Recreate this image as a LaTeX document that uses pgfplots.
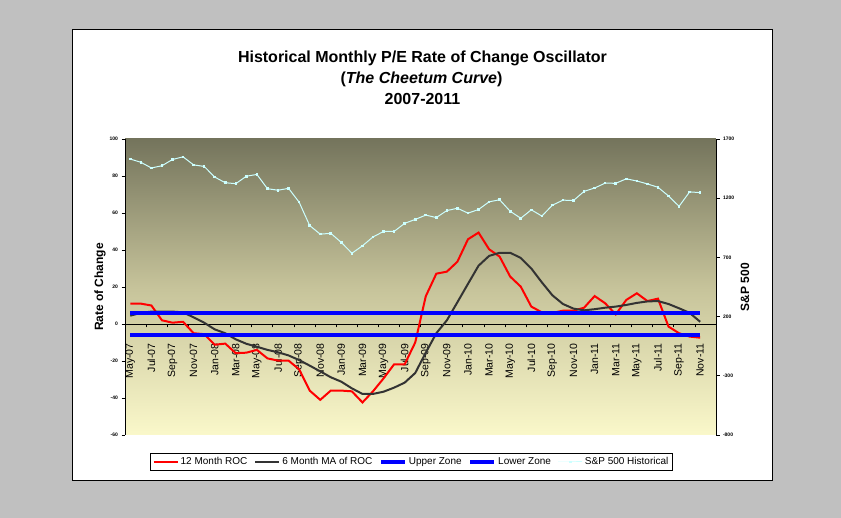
\documentclass[border=0pt]{standalone}
\usepackage{fontspec}
\setmainfont{Liberation Sans}
\usepackage{pgfplots}
\pgfplotsset{compat=1.18}
\definecolor{bggray}{HTML}{C0C0C0}
\definecolor{topc}{HTML}{74745C}
\definecolor{midc}{HTML}{C6C39A}
\definecolor{botc}{HTML}{FAF8CA}
\definecolor{maline}{HTML}{333333}
\definecolor{spc}{HTML}{CCFFFF}
\pgfplotsset{
  base/.style={at={(125pt,83pt)}, anchor=south west, scale only axis,
    width=591pt, height=296pt, xmin=-0.5, xmax=55.5},
}
\begin{document}
\begin{tikzpicture}[x=1pt,y=1pt]
\fill[bggray] (0,0) rectangle (841,518);
\draw[black, line width=1pt, fill=white] (72.5,37.5) rectangle (772.5,488.5);
\node[font=\fontsize{16}{19}\selectfont\bfseries, anchor=base] at (422.5,455.3) {Historical Monthly P/E Rate of Change Oscillator};
\node[font=\fontsize{16}{19}\selectfont\bfseries, anchor=base] at (421.5,434.7) {(\textit{The Cheetum Curve})};
\node[font=\fontsize{16}{19}\selectfont\bfseries, anchor=base] at (422.5,413) {2007-2011};
% frame axis: background, axes, ticks, labels, legend
\begin{axis}[
  base, ymin=-60, ymax=100,
  axis x line=middle, axis y line=left, axis line style={-, black, line width=0.8pt},
  axis background/.style={shade, top color=topc, bottom color=botc, middle color=midc},
  tick align=outside, major tick length=3.5pt,
  tick style={black, line width=0.6pt},
  ytick={-60,-40,...,100},
  yticklabel style={font=\fontsize{5}{6}\selectfont\bfseries, /pgf/number format/assume math mode=true},
  xtick={-0.5,1.5,...,55.5}, xticklabels={},
  extra x ticks={0,2,...,54},
  extra x tick labels={May-07,Jul-07,Sep-07,Nov-07,Jan-08,Mar-08,May-08,Jul-08,Sep-08,Nov-08,Jan-09,Mar-09,May-09,Jul-09,Sep-09,Nov-09,Jan-10,Mar-10,May-10,Jul-10,Sep-10,Nov-10,Jan-11,Mar-11,May-11,Jul-11,Sep-11,Nov-11},
  extra x tick style={major tick length=0pt, tick label style={yshift=-16pt, rotate=90, anchor=east, font=\fontsize{10.5}{12}\selectfont}},
  ylabel={Rate of Change},
  ylabel style={at={(axis description cs:-0.0423,0.5)}, anchor=center, rotate=0, font=\fontsize{12}{14}\selectfont\bfseries},
  legend columns=5,
  legend style={at={(axis description cs:0.4848,-0.0912)}, anchor=center, draw=black, fill=white, line width=0.8pt,
    font=\fontsize{10}{12}\selectfont, inner xsep=2pt, inner ysep=2pt,
    /tikz/every even column/.append style={column sep=5pt},
    nodes={inner xsep=2pt}},
  legend image code/.code={\draw[mark repeat=2,mark phase=2,#1] plot coordinates {(0pt,0pt) (12pt,0pt) (24pt,0pt)};},
]
\addlegendimage{red, line width=2pt}
\addlegendentry{12 Month ROC}
\addlegendimage{maline, line width=2pt}
\addlegendentry{6 Month MA of ROC}
\addlegendimage{blue, line width=3.5pt}
\addlegendentry{Upper Zone}
\addlegendimage{blue, line width=3.5pt}
\addlegendentry{Lower Zone}
\addlegendimage{spc, line width=1pt, mark=square*, mark size=0.8pt}
\addlegendentry{S\&P 500 Historical}
\end{axis}
% data axis: primary series
\begin{axis}[base, ymin=-60, ymax=100, hide axis]
\addplot[red, line width=2pt, mark=none] coordinates {
(0,11)(1,11)(2,10)(3,2)(4,0.7)(5,1.2)(6,-5)(7,-5.5)(8,-11.2)(9,-10.6)(10,-15.8)(11,-15.5)(12,-14)(13,-18.6)(14,-19.8)(15,-19.8)(16,-24.5)(17,-36)(18,-41)(19,-36)(20,-36)(21,-36.4)(22,-42.4)(23,-36.4)(24,-29.4)(25,-21.8)(26,-21.8)(27,-10)(28,15)(29,27.2)(30,28.3)(31,33.7)(32,45.8)(33,49.4)(34,40.4)(35,36.4)(36,25.6)(37,20.2)(38,9.4)(39,6.3)(40,6)(41,7.2)(42,7.2)(43,8.8)(44,15.1)(45,11.2)(46,5.2)(47,13)(48,16.6)(49,12.4)(50,13.7)(51,-1.4)(52,-5)(53,-6.8)(54,-7.4)};
\addplot[maline, line width=2pt, mark=none] coordinates {
(0,4.5)(1,6)(2,6.7)(3,6.7)(4,6.7)(5,6.3)(6,3.6)(7,0.7)(8,-2.9)(9,-5)(10,-8.3)(11,-10.7)(12,-12.3)(13,-14)(14,-15.3)(15,-17)(16,-19.5)(17,-22.5)(18,-25.6)(19,-28.8)(20,-31.2)(21,-34.8)(22,-37.8)(23,-37.8)(24,-36.6)(25,-34.4)(26,-31.7)(27,-26.5)(28,-15.5)(29,-5)(30,2)(31,11.8)(32,21.7)(33,31.5)(34,36.8)(35,38.5)(36,38.5)(37,35.7)(38,30)(39,22.5)(40,15.5)(41,10.8)(42,8.3)(43,7.4)(44,8)(45,8.8)(46,9.4)(47,10.3)(48,11.4)(49,12.2)(50,12.4)(51,10.8)(52,8.5)(53,6)(54,1.2)};
\addplot[blue, line width=3.5pt, mark=none] coordinates {(0,6)(54,6)};
\addplot[blue, line width=3.5pt, mark=none] coordinates {(0,-6)(54,-6)};
\end{axis}
% secondary axis: S&P 500
\begin{axis}[
  base, ymin=-800, ymax=1700,
  axis x line=none, axis y line=right, axis line style={-, black, line width=0.8pt},
  tick align=outside, major tick length=3.5pt,
  tick style={black, line width=0.6pt},
  ytick={-800,-300,...,1700},
  yticklabel style={font=\fontsize{5}{6}\selectfont\bfseries, /pgf/number format/assume math mode=true, /pgf/number format/1000 sep={}},
  ylabel={S\&P 500},
  ylabel style={at={(axis description cs:1.049,0.5)}, anchor=center, rotate=0, font=\fontsize{12}{14}\selectfont\bfseries},
]
\addplot[spc, line width=1pt, mark=square*, mark size=0.8pt] coordinates {
(0,1530.6)(1,1503.4)(2,1455.3)(3,1474.0)(4,1526.8)(5,1549.4)(6,1481.1)(7,1468.4)(8,1378.6)(9,1330.6)(10,1322.7)(11,1385.6)(12,1400.4)(13,1280.0)(14,1267.4)(15,1282.8)(16,1166.4)(17,968.8)(18,896.2)(19,903.3)(20,825.9)(21,735.1)(22,797.9)(23,872.8)(24,919.1)(25,919.3)(26,987.5)(27,1020.6)(28,1057.1)(29,1036.2)(30,1095.6)(31,1115.1)(32,1073.9)(33,1104.5)(34,1169.4)(35,1186.7)(36,1089.4)(37,1030.7)(38,1101.6)(39,1049.3)(40,1141.2)(41,1183.3)(42,1180.6)(43,1257.6)(44,1286.1)(45,1327.2)(46,1325.8)(47,1363.6)(48,1345.2)(49,1320.6)(50,1292.3)(51,1218.9)(52,1131.4)(53,1253.3)(54,1247.0)};
\end{axis}
\end{tikzpicture}
\end{document}
